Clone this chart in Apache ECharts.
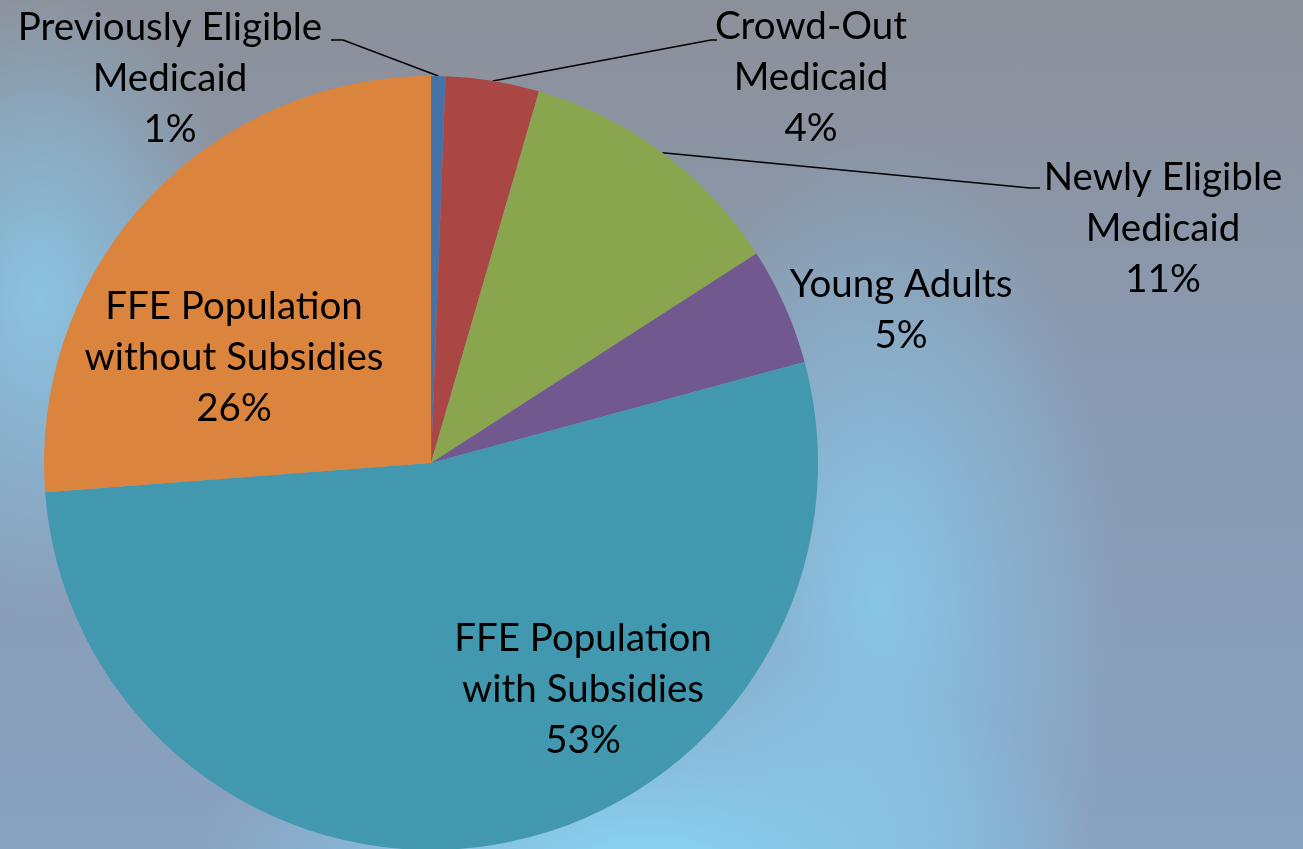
<!DOCTYPE html>
<html>
<head>
<meta charset="utf-8">
<script src="https://cdn.jsdelivr.net/npm/echarts@6/dist/echarts.min.js"></script>
<style>
  html, body { margin: 0; padding: 0; }
  body {
    width: 1303px; height: 849px; overflow: hidden;
    background:
      radial-gradient(ellipse 240px 460px at 880px 600px, rgba(136,204,238,0.85), rgba(136,204,238,0) 100%),
      radial-gradient(ellipse 460px 240px at 650px 880px, rgba(136,218,250,0.95), rgba(136,218,250,0) 100%),
      radial-gradient(ellipse 200px 320px at 40px 300px, rgba(138,202,234,0.85), rgba(138,202,234,0) 100%),
      linear-gradient(to bottom, #8c9099 0%, #8a9ab2 45%, #88a2c0 100%);
  }
  #chart { width: 1303px; height: 849px; }
</style>
</head>
<body>
<div id="chart"></div>
<script>
// 分类与数值（百分比，按图中扇区角度估读）
const categories = [
    'Previously Eligible\nMedicaid',
    'Crowd-Out\nMedicaid',
    'Newly Eligible\nMedicaid',
    'Young Adults',
    'FFE Population\nwith Subsidies',
    'FFE Population\nwithout Subsidies'
];
const values = [0.6, 3.9, 11.4, 4.9, 53.0, 26.2];
const colors = ['#4572A7', '#AA4643', '#89A54E', '#71588F', '#4198AF', '#DB843D'];

// 标签位置（中心点）及引导线末端
const labelPos = [
    { x: 170, y: 79, lineY: 40, lineEnd: 331, bend: 343 },
    { x: 811, y: 78, lineY: 40, lineEnd: 717, bend: 711 },
    { x: 1163, y: 229, lineY: 188, lineEnd: 1040, bend: 1030 },
    { x: 901, y: 310 },
    { x: 583, y: 690 },
    { x: 234, y: 358 }
];

const chart = echarts.init(document.getElementById('chart'));

const seriesData = categories.map((name, i) => ({
    name: name,
    value: values[i],
    itemStyle: { color: colors[i] },
    labelLine: { show: i < 3 }
}));

chart.setOption({
    backgroundColor: 'transparent',
    animation: false,
    series: [{
        type: 'pie',
        center: [431, 463],
        radius: 387,
        startAngle: 90,
        clockwise: true,
        data: seriesData,
        label: {
            show: true,
            position: 'outside',
            color: '#000',
            fontFamily: 'Lato',
            fontSize: 38.5,
            lineHeight: 51,
            overflow: 'none',
            formatter: p => p.name + '\n' + Math.round(p.percent) + '%'
        },
        labelLine: {
            show: true,
            lineStyle: { color: '#000', width: 1.5 }
        },
        labelLayout: function (params) {
            const pos = labelPos[params.dataIndex];
            const out = { x: pos.x, y: pos.y, align: 'center', verticalAlign: 'middle', width: 500 };
            if (pos.lineY !== undefined && params.labelLinePoints) {
                const p0 = params.labelLinePoints[0];
                out.labelLinePoints = [
                    [p0[0], p0[1]],
                    [pos.bend, pos.lineY],
                    [pos.lineEnd, pos.lineY]
                ];
            }
            return out;
        }
    }]
});
</script>
</body>
</html>
